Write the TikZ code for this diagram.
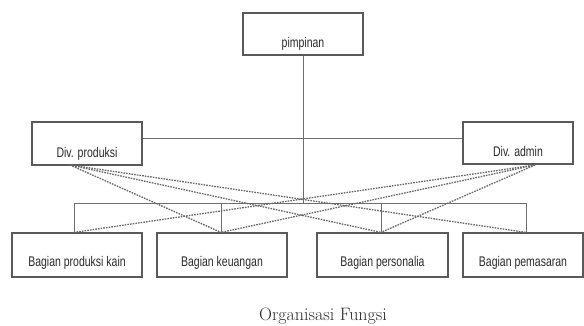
\documentclass[tikz,border=0pt]{standalone}
\usepackage{fontspec}
\usepackage{graphicx}
\newfontfamily\boxfont{Liberation Sans}
\newcommand{\narrowtxt}[1]{\scalebox{0.75}[1]{#1}}
\definecolor{boxline}{HTML}{5A5A5A}
\definecolor{conn}{HTML}{6E6E6E}
\definecolor{dashc}{HTML}{666666}
\definecolor{txt}{HTML}{2A2A2A}
\tikzset{
  orgbox/.style={draw=boxline, line width=1.2pt, rectangle, inner sep=0pt,
    font=\boxfont\fontsize{14}{16}\selectfont, text=txt, text depth=0pt},
  solidconn/.style={draw=conn, line width=1pt},
  dashconn/.style={draw=dashc, line width=1.3pt, dash pattern=on 1.6pt off 1.1pt},
}
\begin{document}
\begin{tikzpicture}[x=1pt,y=1pt]
\useasboundingbox (0,0) rectangle (584,-325);
% boxes
\node[orgbox, minimum width=120pt, minimum height=42pt, text height=26pt] (pim) at (303,-34) {\narrowtxt{pimpinan}};
\node[orgbox, minimum width=110pt, minimum height=43pt, text height=27pt] (divp) at (87,-143.5) {\narrowtxt{Div. produksi}};
\node[orgbox, minimum width=110pt, minimum height=42pt, text height=26pt] (diva) at (518,-143) {\narrowtxt{Div. admin}};
\node[orgbox, minimum width=130pt, minimum height=44pt, text height=23pt] (b1) at (77,-255) {\narrowtxt{Bagian produksi kain}};
\node[orgbox, minimum width=130pt, minimum height=44pt, text height=23pt] (b2) at (222,-255) {\narrowtxt{Bagian keuangan}};
\node[orgbox, minimum width=131pt, minimum height=44pt, text height=23pt] (b3) at (382.5,-255) {\narrowtxt{Bagian personalia}};
\node[orgbox, minimum width=120pt, minimum height=44pt, text height=23pt] (b4) at (523,-255) {\narrowtxt{Bagian pemasaran}};
% helper coordinates
\coordinate (hline) at (303,-138);
\coordinate (bus) at (303,-203);
\coordinate (d1) at (74,-203);
\coordinate (d2) at (221,-203);
\coordinate (d3) at (381,-203);
\coordinate (d4) at (526,-203);
\coordinate (op) at (70,-165);
\coordinate (oa) at (535,-165);
% solid connectors
\draw[solidconn] (pim.south) -- (bus);
\draw[solidconn] (divp.east |- hline) -- (diva.west |- hline);
\draw[solidconn] (d1) -- (d4);
\draw[solidconn] (d1) -- (d1 |- b1.north);
\draw[solidconn] (d2) -- (d2 |- b2.north);
\draw[solidconn] (d3) -- (d3 |- b3.north);
\draw[solidconn] (d4) -- (d4 |- b4.north);
% dashed connectors
\draw[dashconn] (op) -- (d2 |- b2.north);
\draw[dashconn] (op) -- (d3 |- b3.north);
\draw[dashconn] (op) -- (d4 |- b4.north);
\draw[dashconn] (oa) -- (d1 |- b1.north);
\draw[dashconn] (oa) -- (d2 |- b2.north);
\draw[dashconn] (oa) -- (d3 |- b3.north);
% caption
\node[anchor=base, font=\fontsize{18}{20}\selectfont, text=txt, inner sep=0pt] (cap) at (323,-320) {Organisasi Fungsi};
\end{tikzpicture}
\end{document}
